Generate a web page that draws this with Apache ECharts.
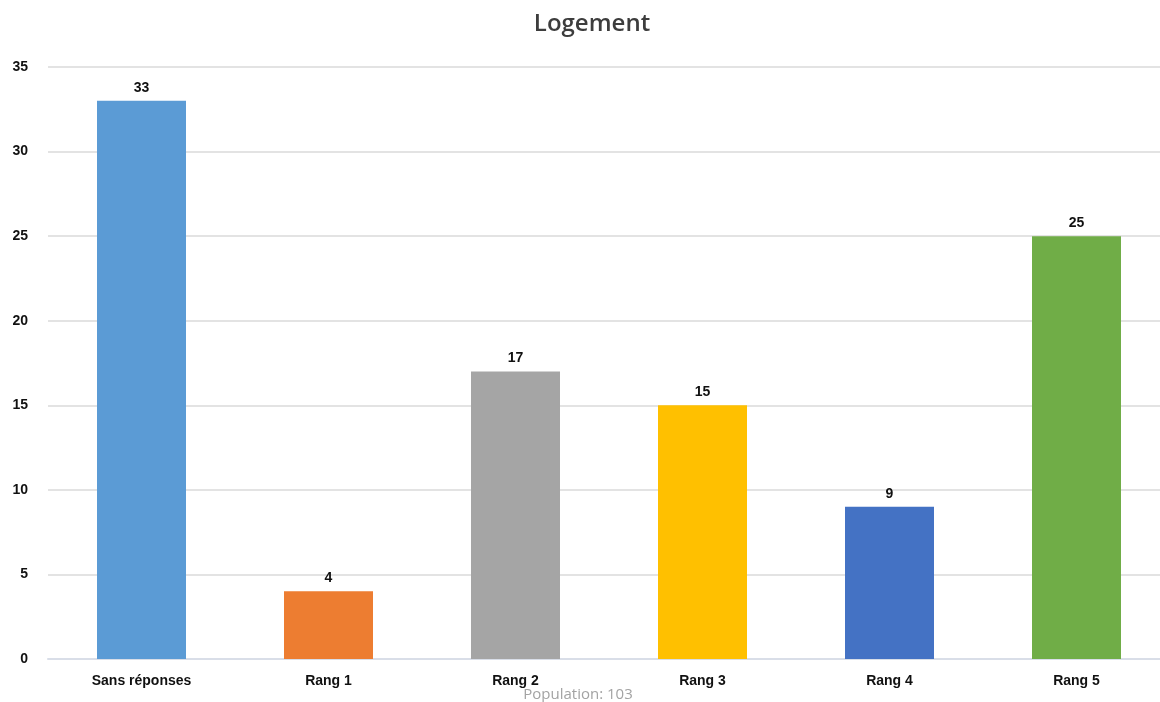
<!DOCTYPE html>
<html><head><meta charset="utf-8">
<script src="https://cdn.jsdelivr.net/npm/echarts@6/dist/echarts.min.js"></script>
<style>html,body{margin:0;padding:0;background:#fff}#c{width:1160px;height:702px}</style>
</head><body><div id="c"></div>
<script>
const categories = ['Sans réponses', 'Rang 1', 'Rang 2', 'Rang 3', 'Rang 4', 'Rang 5'];
const values = [33, 4, 17, 15, 9, 25];
const colors = ['#5b9bd5', '#ed7d31', '#a5a5a5', '#ffc000', '#4472c4', '#70ad47'];
const yTicks = [0, 5, 10, 15, 20, 25, 30, 35];
const titleText = 'Logement';
const subText = 'Population: 103';

const chart = echarts.init(document.getElementById('c'));
chart.setOption({
  animation: false,
  graphic: [{
    type: 'text', x: 592, y: 24,
    style: {text: titleText, textAlign: 'center', textVerticalAlign: 'middle',
      font: '600 24px "Open Sans"', fill: '#3d3d3d'}
  }, {
    type: 'text', x: 578, y: 695,
    style: {text: subText, textAlign: 'center', textVerticalAlign: 'middle',
      font: 'normal 15px "Open Sans"', fill: '#a3a3a3'}
  }],
  grid: {left: 48, top: 67, width: 1122, bottom: 43, containLabel: false, outerBoundsMode: 'none'},
  xAxis: {
    type: 'category', data: categories,
    axisLine: {lineStyle: {color: '#d9dee8', width: 2}},
    axisTick: {show: false},
    axisLabel: {color: '#111', fontFamily: 'Liberation Sans', fontWeight: 'bold', fontSize: 14, margin: 15}
  },
  yAxis: {
    type: 'value', min: yTicks[0], max: yTicks[yTicks.length - 1], interval: 5,
    axisLine: {show: false}, axisTick: {show: false},
    splitLine: {lineStyle: {color: '#e3e3e3', width: 2}},
    axisLabel: {color: '#111', fontFamily: 'Liberation Sans', fontWeight: 'bold', fontSize: 14, margin: 20}
  },
  series: [{
    type: 'bar', barWidth: 89,
    data: values.map((v, i) => ({value: v, itemStyle: {color: colors[i]}})),
    label: {show: true, position: 'top', distance: 6, color: '#111', fontFamily: 'Liberation Sans', fontWeight: 'bold', fontSize: 14}
  }]
});
</script></body></html>
